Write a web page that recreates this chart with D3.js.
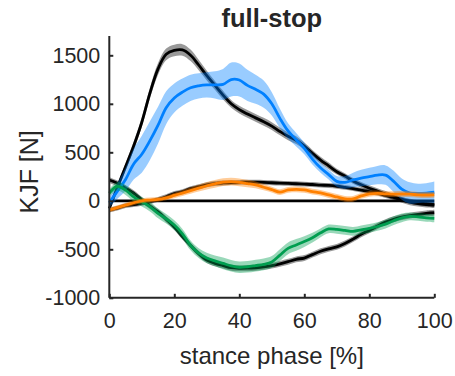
<!DOCTYPE html>
<html>
<head>
<meta charset="utf-8">
<script src="https://cdn.jsdelivr.net/npm/d3@7"></script>
<style>
  html, body { margin: 0; padding: 0; background: #fff; }
  svg { display: block; }
  text { font-family: "Liberation Sans", Arial, Helvetica, sans-serif; fill: #262626; }
</style>
</head>
<body>
<svg id="chart" width="455" height="376"></svg>
<script>
// Stance phase sample points [%]
const phase = d3.range(0, 100.01, 2.5);

// Knee joint force components [N]: measured mean and spread, with model curves
const blueMean = [-20, 100, 220, 380, 480, 620, 780, 960, 1060, 1120, 1165, 1185, 1195, 1195, 1200, 1250, 1245, 1190, 1150, 1100, 1000, 850, 720, 630, 540, 430, 340, 270, 200, 190, 215, 235, 250, 265, 265, 200, 120, 80, 77, 80, 88];
const blueSd   = [50, 80, 120, 160, 190, 200, 190, 170, 150, 140, 135, 130, 130, 140, 160, 175, 170, 160, 150, 140, 120, 100, 80, 70, 60, 55, 50, 50, 55, 65, 75, 85, 90, 95, 100, 110, 110, 110, 100, 100, 110];
const blueModel   = [-80, 140, 350, 565, 810, 1110, 1360, 1510, 1550, 1555, 1500, 1400, 1290, 1190, 1090, 1000, 940, 895, 855, 815, 770, 715, 665, 625, 565, 490, 420, 360, 300, 255, 205, 165, 130, 100, 70, 40, 10, -15, -30, -40, -45];
const blueModelSd = [30, 35, 40, 45, 50, 55, 60, 60, 60, 60, 60, 55, 50, 45, 45, 40, 40, 40, 40, 40, 40, 40, 40, 40, 35, 35, 35, 35, 30, 30, 30, 30, 30, 30, 30, 30, 30, 30, 30, 30, 30];

const orangeMean = [-95, -70, -45, -20, 0, 8, 14, 30, 55, 80, 105, 130, 155, 175, 192, 198, 190, 178, 165, 140, 115, 90, 112, 118, 112, 95, 82, 60, 40, 20, 20, 50, 72, 77, 72, 68, 70, 68, 62, 60, 62];
const orangeSd   = [25, 25, 25, 25, 25, 25, 25, 25, 28, 30, 32, 35, 38, 40, 40, 40, 40, 38, 35, 32, 30, 30, 30, 30, 30, 30, 30, 30, 30, 30, 30, 30, 30, 30, 30, 30, 30, 30, 30, 30, 30];
const orangeModel   = [-95, -75, -50, -40, -25, -9, 15, 42, 75, 94, 125, 145, 165, 178, 184, 187, 190, 193, 192, 190, 186, 182, 179, 176, 172, 168, 162, 158, 150, 138, 125, 110, 95, 80, 55, 35, 15, -5, -20, -30, -40];
const orangeModelSd = [25, 25, 25, 25, 25, 25, 25, 25, 25, 25, 25, 25, 25, 25, 25, 25, 25, 25, 25, 25, 25, 25, 25, 25, 25, 25, 25, 25, 25, 25, 25, 25, 25, 25, 25, 25, 25, 25, 25, 25, 25];

const greenMean = [80, 150, 110, 40, -10, -60, -130, -185, -250, -340, -460, -540, -590, -620, -645, -670, -685, -680, -668, -655, -630, -560, -490, -455, -420, -380, -330, -290, -295, -305, -315, -300, -285, -265, -240, -205, -175, -160, -165, -175, -180];
const greenSd   = [40, 45, 50, 50, 50, 50, 50, 50, 50, 50, 50, 50, 55, 55, 60, 60, 60, 60, 60, 60, 60, 60, 60, 60, 55, 50, 45, 45, 45, 45, 45, 45, 45, 45, 45, 45, 45, 40, 40, 40, 40];
const greenModel   = [214, 180, 130, 80, 10, -55, -115, -190, -270, -370, -460, -545, -610, -645, -668, -690, -696, -695, -690, -682, -668, -650, -628, -603, -590, -555, -520, -495, -475, -440, -395, -345, -305, -260, -220, -190, -168, -152, -140, -130, -123];
const greenModelSd = [30, 30, 30, 30, 30, 30, 30, 30, 30, 30, 30, 30, 30, 30, 30, 30, 30, 30, 30, 30, 30, 30, 30, 30, 30, 30, 30, 30, 30, 30, 30, 30, 30, 30, 30, 30, 30, 30, 30, 30, 30];

const xTicks = [0, 20, 40, 60, 80, 100];
const yTicks = [-1000, -500, 0, 500, 1000, 1500];

const titleText = "full-stop";
const xLabel = "stance phase [%]";
const yLabel = "KJF [N]";

// Layout
const svg = d3.select("#chart");
const plot = { left: 109.3, right: 434.3, top: 35.9, bottom: 297.8 };
const x = d3.scaleLinear().domain([0, 100]).range([plot.left, plot.right]);
const y = d3.scaleLinear().domain([-1000, 1700]).range([plot.bottom, plot.top]);

const axisColor = "#262626";
const fontFamily = "'Liberation Sans', Arial, Helvetica, sans-serif";
const lineWidth = 2.8;

const rows = (m, s) => phase.map((p, i) => ({ p, m: m[i], lo: m[i] - s[i], hi: m[i] + s[i] }));
const curve = d3.curveCatmullRom.alpha(0.5);
const line = d3.line().x(d => x(d.p)).y(d => y(d.m)).curve(curve);
const band = d3.area().x(d => x(d.p)).y0(d => y(d.lo)).y1(d => y(d.hi)).curve(curve);

const g = svg.append("g");

// Model curves: grey spread with black mean
const models = [
  rows(blueModel, blueModelSd),
  rows(orangeModel, orangeModelSd),
  rows(greenModel, greenModelSd)
];
models.forEach(d => {
  g.append("path").attr("d", band(d)).attr("fill", "rgb(0,0,0)").attr("fill-opacity", 0.4).attr("stroke", "none");
});
models.forEach(d => {
  g.append("path").attr("d", line(d)).attr("fill", "none").attr("stroke", "#000").attr("stroke-width", lineWidth);
});

// Zero reference
g.append("line")
  .attr("x1", x(0)).attr("x2", x(100))
  .attr("y1", y(0)).attr("y2", y(0))
  .attr("stroke", "#000").attr("stroke-width", lineWidth);

// Measured curves: coloured spread with mean
const measured = [
  { d: rows(blueMean, blueSd), c: "rgb(0,128,255)" },
  { d: rows(greenMean, greenSd), c: "rgb(0,158,80)" },
  { d: rows(orangeMean, orangeSd), c: "rgb(255,128,0)" }
];
measured.forEach(s => {
  g.append("path").attr("d", band(s.d)).attr("fill", s.c).attr("fill-opacity", 0.4).attr("stroke", "none");
  g.append("path").attr("d", line(s.d)).attr("fill", "none").attr("stroke", s.c).attr("stroke-width", lineWidth);
});

// Axes
const fmt = d => String(d);
const xAxis = d3.axisBottom(x).tickValues(xTicks).tickFormat(fmt).tickSize(-4).tickPadding(15).tickSizeOuter(0);
const yAxis = d3.axisLeft(y).tickValues(yTicks).tickFormat(fmt).tickSize(-4).tickPadding(9).tickSizeOuter(0);

const gx = svg.append("g").attr("transform", `translate(0,${plot.bottom})`).call(xAxis);
const gy = svg.append("g").attr("transform", `translate(${plot.left},0)`).call(yAxis);

[gx, gy].forEach(a => {
  a.select(".domain").attr("stroke", axisColor).attr("stroke-width", 2);
  a.selectAll(".tick line").attr("stroke", axisColor).attr("stroke-width", 2);
  a.selectAll(".tick text").attr("fill", axisColor).style("font-size", "21.5px")
    .style("font-family", fontFamily);
});
gx.select(".domain").attr("d", `M${plot.left},0H${plot.right}`);
gy.select(".domain").attr("d", `M0,${plot.top}V${plot.bottom}`);

// Titles
svg.append("text")
  .attr("x", (plot.left + plot.right) / 2).attr("y", 27)
  .attr("text-anchor", "middle")
  .style("font-size", "25.5px").style("font-weight", "bold")
  .attr("fill", "#000")
  .text(titleText);

svg.append("text")
  .attr("x", (plot.left + plot.right) / 2).attr("y", 364)
  .attr("text-anchor", "middle")
  .style("font-size", "24px")
  .text(xLabel);

svg.append("text")
  .attr("transform", `translate(38,${(plot.top + plot.bottom) / 2 + 5}) rotate(-90)`)
  .attr("text-anchor", "middle")
  .style("font-size", "25px")
  .text(yLabel);
</script>
</body>
</html>
